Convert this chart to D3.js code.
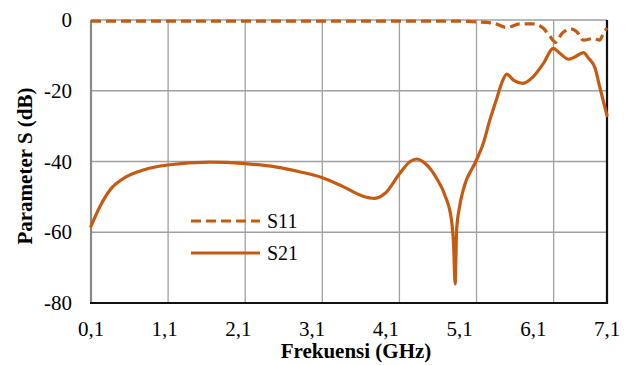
<!DOCTYPE html>
<html><head><meta charset="utf-8">
<script src="https://cdn.jsdelivr.net/npm/d3@7"></script>
<style>body{margin:0;background:#fff}svg{display:block}</style>
</head><body>
<svg id="c" width="627" height="365"></svg>
<script>
const xTicks = [0.1, 1.1, 2.1, 3.1, 4.1, 5.1, 6.1, 7.1];
const xTickLabels = ["0,1", "1,1", "2,1", "3,1", "4,1", "5,1", "6,1", "7,1"];
const xGrid = [1.146, 2.192, 3.238, 4.284, 5.33, 6.376];
const yTicks = [0, -20, -40, -60, -80];
const seriesNames = ["S11", "S21"];
const s11Freq = [0.1, 1.0, 2.0, 3.0, 4.0, 5.0, 5.29, 5.56, 5.74, 5.92, 6.1, 6.24, 6.33, 6.4, 6.49, 6.6, 6.69, 6.78, 6.92, 7.0, 7.05, 7.1];
const s11Val  = [-0.3, -0.3, -0.3, -0.3, -0.3, -0.3, -0.5, -0.9, -2.1, -1.1, -1.1, -2.4, -4.7, -6.3, -3.8, -2.5, -3.3, -5.7, -5.2, -5.7, -3.8, -2.2];
const s21Freq = [0.1, 0.22, 0.36, 0.58, 0.81, 1.14, 1.71, 2.18, 2.6, 2.93, 3.23, 3.52, 3.79, 3.95, 4.09, 4.29, 4.43, 4.52, 4.63, 4.79, 4.9, 4.99, 5.02, 5.04, 5.06, 5.1, 5.15, 5.32, 5.42, 5.51, 5.6, 5.67, 5.74, 5.83, 5.96, 6.1, 6.24, 6.37, 6.46, 6.58, 6.67, 6.78, 6.85, 6.94, 7.0, 7.1];
const s21Val  = [-58.3, -52.8, -48.0, -44.3, -42.4, -41.0, -40.2, -40.6, -41.5, -42.9, -44.5, -47.1, -49.8, -50.4, -49.0, -43.3, -40.0, -39.3, -40.5, -44.8, -49.5, -56.5, -64.1, -74.6, -59.4, -52.8, -48.0, -40.0, -35.0, -28.3, -22.5, -17.9, -15.3, -17.0, -17.9, -16.0, -12.2, -8.0, -9.4, -11.1, -10.4, -9.2, -10.8, -13.7, -18.8, -27.0];

const color = "#C55A11";
const FONT = "'Liberation Serif', 'Times New Roman', 'DejaVu Serif', serif";
const svg = d3.select("#c");
const L = 91, R = 607, T = 20, B = 303;
const x = d3.scaleLinear().domain([0.1, 7.1]).range([L, R]);
const y = d3.scaleLinear().domain([-80, 0]).range([B, T]);

// gridlines
const g = svg.append("g");
g.selectAll("line.h").data(yTicks).join("line")
  .attr("x1", L).attr("x2", R).attr("y1", d => y(d)).attr("y2", d => y(d))
  .attr("stroke", "#a0a0a0").attr("stroke-width", 1.3);
g.selectAll("line.v").data(xGrid).join("line")
  .attr("x1", d => x(d)).attr("x2", d => x(d)).attr("y1", T).attr("y2", B)
  .attr("stroke", "#a0a0a0").attr("stroke-width", 1.3);

// axes lines
svg.append("line").attr("x1", L).attr("x2", L).attr("y1", T).attr("y2", B).attr("stroke", "#888").attr("stroke-width", 2.2);
svg.append("line").attr("x1", R).attr("x2", R).attr("y1", T).attr("y2", B + 1).attr("stroke", "#111").attr("stroke-width", 2.2);
svg.append("line").attr("x1", L - 1).attr("x2", R + 1).attr("y1", B).attr("y2", B).attr("stroke", "#111").attr("stroke-width", 2.2);

// tick labels
svg.append("g").selectAll("text").data(yTicks).join("text")
  .attr("x", 72).attr("y", d => y(d)).attr("dy", "0.34em").attr("text-anchor", "end")
  .attr("font-family", FONT).attr("font-size", 21).text(d => d);
svg.append("g").selectAll("text").data(xTicks).join("text")
  .attr("x", d => x(d)).attr("y", 336).attr("text-anchor", "middle")
  .attr("font-family", FONT).attr("font-size", 21).text((d, i) => xTickLabels[i]);

// titles
svg.append("text").attr("x", 356).attr("y", 358).attr("text-anchor", "middle")
  .attr("font-family", FONT).attr("font-size", 21).attr("font-weight", "bold").text("Frekuensi (GHz)");
svg.append("text").attr("transform", "translate(32,166) rotate(-90)").attr("text-anchor", "middle")
  .attr("font-family", FONT).attr("font-size", 21).attr("font-weight", "bold").text("Parameter S (dB)");

// lines
const line = d3.line().x(d => x(d[0])).y(d => y(d[1])).curve(d3.curveMonotoneX);
const s11 = s11Freq.map((f, i) => [f, s11Val[i]]);
const s21 = s21Freq.map((f, i) => [f, s21Val[i]]);
svg.append("path").datum(s21).attr("d", line).attr("fill", "none").attr("stroke", color)
  .attr("stroke-width", 3.2).attr("stroke-linejoin", "round").attr("stroke-linecap", "round");
svg.append("path").datum(s11).attr("d", line).attr("fill", "none").attr("stroke", color)
  .attr("stroke-width", 3.2).attr("stroke-dasharray", "10,5");

// legend
const leg = svg.append("g");
[221, 253].forEach((ly, i) => {
  leg.append("line").attr("x1", 191).attr("x2", 260).attr("y1", ly).attr("y2", ly)
    .attr("stroke", color).attr("stroke-width", 3.2)
    .attr("stroke-dasharray", i === 0 ? "10,5" : null);
  leg.append("text").attr("x", 267).attr("y", ly).attr("dy", "0.35em")
    .attr("font-family", FONT).attr("font-size", 20).text(seriesNames[i]);
});
</script>
</body></html>
